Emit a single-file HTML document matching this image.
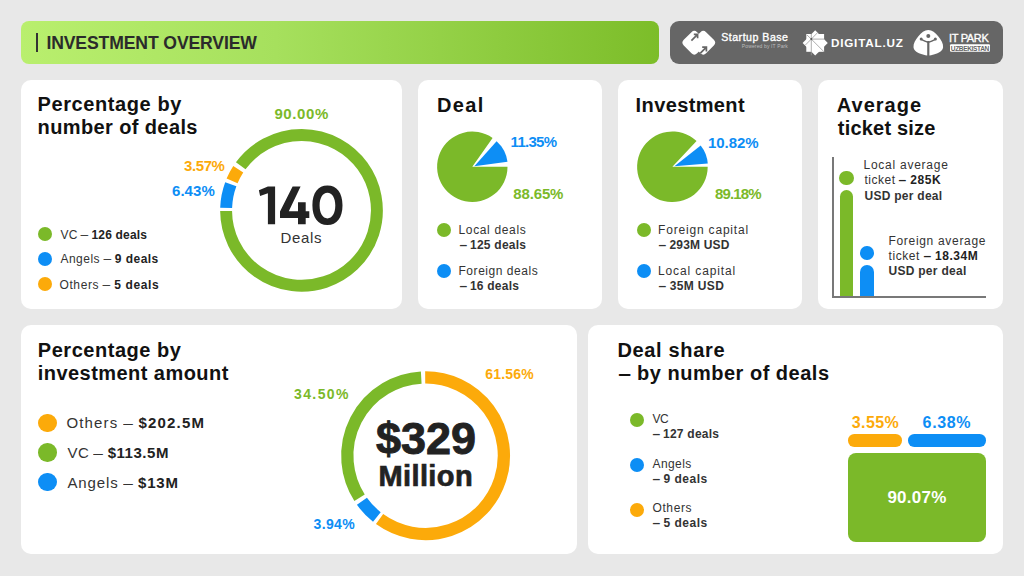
<!DOCTYPE html>
<html><head><meta charset="utf-8">
<style>
*{margin:0;padding:0;box-sizing:border-box}
html,body{width:1024px;height:576px;overflow:hidden;background:#e8e8e8;font-family:"Liberation Sans",sans-serif}
.a{position:absolute}
.card{position:absolute;background:#fff;border-radius:10px}
.t{position:absolute;white-space:nowrap;line-height:1}
.b{font-weight:bold}
.ttl{font-weight:bold;color:#111;font-size:20px}
.lg{color:#333;font-size:12px}
.lg b{color:#222}
.dot{position:absolute;border-radius:50%}
.g{color:#7bb929}.o{color:#fcaa0a}.bl{color:#0d8ef5}
.bg{background:#7bb929}.bo{background:#fcaa0a}.bb{background:#0d8ef5}
.pc{font-weight:bold;font-size:15px}
.dh{display:inline-block;font-style:normal;transform:scaleX(1.15)}

#hdr{margin-left:-0.6px;margin-top:1.8px;letter-spacing:-0.124px}#c1t1{margin-left:-0.4px;margin-top:-0.61px;letter-spacing:0.583px}#c1t2{margin-left:-0.4px;margin-top:-0.8px;letter-spacing:0.383px}#p90{margin-left:-0.6px;margin-top:-0.61px;letter-spacing:0.6px}#p357{margin-left:0px;margin-top:-0.71px;letter-spacing:-0.4px}#p643{margin-left:-1px;margin-top:-0.91px;letter-spacing:0.05px}#deals{margin-left:-0.4px;margin-top:-0.61px;letter-spacing:0.65px}#l1{margin-left:0.5px;margin-top:-0.4px;letter-spacing:0.189px}#l2{margin-left:0.5px;margin-top:-0.71px;letter-spacing:0.466px}#l3{margin-left:-0.5px;margin-top:-0.21px;letter-spacing:0.599px}#c2t{margin-left:-1px;margin-top:-0.41px;letter-spacing:1.333px}#p1135{margin-left:-1.4px;margin-top:-0.21px;letter-spacing:-0.72px}#p8865{margin-left:0.2px;margin-top:-1.0px;letter-spacing:-0.12px}#d1{margin-left:-0.5px;margin-top:-0.31px;letter-spacing:0.65px}#d2{margin-left:0.5px;margin-top:-0.31px;letter-spacing:0.244px}#d3{margin-left:-0.5px;margin-top:-0.21px;letter-spacing:0.542px}#d4{margin-left:0.5px;margin-top:-0.5px;letter-spacing:0.223px}#c3t{margin-left:-1.4px;margin-top:-0.11px;letter-spacing:0.381px}#p1082{margin-left:-2.0px;margin-top:-0.5px;letter-spacing:-0.04px}#p8918{margin-left:0px;margin-top:-1.0px;letter-spacing:-0.88px}#i1{margin-left:-1.0px;margin-top:-0.31px;letter-spacing:0.818px}#i2{margin-left:0.0px;margin-top:-0.31px;letter-spacing:0.195px}#i3{margin-left:-1.0px;margin-top:-0.21px;letter-spacing:0.874px}#i4{margin-left:0.0px;margin-top:-0.5px;letter-spacing:0.358px}#c4t1{margin-left:-1.2px;margin-top:-1.0px;letter-spacing:1.0px}#c4t2{margin-left:-0.2px;margin-top:-1.0px;letter-spacing:0.2px}#a1{margin-left:-1.0px;margin-top:-0.5px;letter-spacing:0.747px}#a2{margin-left:-0.0px;margin-top:-0.31px;letter-spacing:0.499px}#a3{margin-left:-0.0px;margin-top:0.21px;letter-spacing:0.268px}#a4{margin-left:-0.5px;margin-top:-0.1px;letter-spacing:0.683px}#a5{margin-left:-0.5px;margin-top:-0.1px;letter-spacing:0.569px}#a6{margin-left:-0.5px;margin-top:0.21px;letter-spacing:0.275px}#c5t1{margin-left:-0.2px;margin-top:-0.8px;letter-spacing:0.532px}#c5t2{margin-left:-0.2px;margin-top:-0.8px;letter-spacing:0.447px}#m1{margin-left:-0.6px;margin-top:-0.61px;letter-spacing:1.16px}#m2{margin-left:0.4px;margin-top:-0.8px;letter-spacing:0.545px}#m3{margin-left:0.4px;margin-top:-0.41px;letter-spacing:0.883px}#n329{margin-left:0.1px;margin-top:0.3px;letter-spacing:-0.029px}#mil{margin-left:-1.6px;margin-top:1.0px;letter-spacing:0.403px}#p6156{margin-left:-0.8px;margin-top:0.5px;letter-spacing:0.2px}#p3450{margin-left:0.0px;margin-top:0.8px;letter-spacing:1.4px}#p394{margin-left:-0.4px;margin-top:0.61px;letter-spacing:0.35px}#c6t1{margin-left:-1.6px;margin-top:-1.0px;letter-spacing:0.667px}#c6t2{margin-left:0.4px;margin-top:-0.61px;letter-spacing:0.504px}#s1{margin-left:-0.6px;margin-top:-0.41px;letter-spacing:-0.3px}#s2{margin-left:-0.5px;margin-top:-0.1px;letter-spacing:0.245px}#s3{margin-left:-0.5px;margin-top:-0.71px;letter-spacing:0.4px}#s4{margin-left:-0.5px;margin-top:-0.5px;letter-spacing:0.502px}#s5{margin-left:-0.5px;margin-top:-1.21px;letter-spacing:0.6px}#s6{margin-left:-0.5px;margin-top:-1.0px;letter-spacing:0.502px}#p355{margin-left:-0.2px;margin-top:0.91px;letter-spacing:0.4px}#p638{margin-left:-0.4px;margin-top:0.91px;letter-spacing:0.65px}#p9007{margin-left:-0.6px;margin-top:0.91px;letter-spacing:0.24px}#sb{margin-left:0.2px;margin-top:0.3px;letter-spacing:0.504px}#pw{margin-left:-0.2px;margin-top:0.3px;letter-spacing:0.131px}#dg{margin-left:-1.1px;margin-top:-0.21px;letter-spacing:0.808px}#itp{margin-left:-1px;margin-top:0.5px;letter-spacing:-0.334px}#uzb{margin-left:-0.2px;margin-top:0.51px;letter-spacing:-0.395px}</style></head><body>
<!-- header -->
<div class="a" style="left:21.4px;top:21px;width:637.6px;height:43px;border-radius:8px;background:linear-gradient(90deg,#b9ef6e 0%,#a6e05d 40%,#7cbd29 100%)"></div>
<div class="a" style="left:36.2px;top:33px;width:1.8px;height:19px;background:#333"></div>
<div class="t b" id="hdr" style="left:47px;top:33px;font-size:17.6px;color:#2b2b2b">INVESTMENT OVERVIEW</div>

<div class="a" style="left:670px;top:21px;width:333px;height:43px;border-radius:9px;background:#666"></div>
<svg class="a" style="left:0;top:0" width="1024" height="70" viewBox="0 0 1024 70">
 <g fill="#fff">
  <rect x="684.85" y="33.25" width="18.9" height="18.9" rx="4" transform="rotate(45 694.3 42.7)"/>
  <rect x="693.85" y="33.25" width="18.9" height="18.9" rx="4" transform="rotate(45 703.3 42.7)"/>
 </g>
 <g stroke="#666" stroke-width="1.7" fill="none" stroke-linecap="butt">
  <path d="M691.4 40.6L697.6 34.4M693.8 34.4H697.6V38.2"/>
  <path d="M700.4 53.2L706.4 47.2M702.2 47.2H706.4V51.4"/>
 </g>
 <g fill="#fff">
  <rect x="806.3" y="34" width="17.8" height="17.8"/>
  <rect x="806.3" y="34" width="17.8" height="17.8" transform="rotate(45 815.2 42.9)"/>
 </g>
 <g stroke="#9a9a9a" stroke-width="0.8" fill="none">
  <path d="M811.3 34V55.3M811.3 39.1H824.1M811.3 39.1L824 51.8M811.3 39.1L817.6 32.6M811.3 39.1L807 35M811.3 39.1L805.4 45"/>
 </g>
 <circle cx="811.3" cy="39.1" r="1" fill="#555"/>
 <path fill="#fff" d="M928.3 29.9C932.2 29.9 935.2 32.4 938.2 36.2C941.2 40 943.4 43.6 943.1 47.2C942.8 50.8 938.6 53 934.6 54.2C932.2 54.9 929.8 55.4 928.3 55.6C926.8 55.4 924.4 54.9 922 54.2C918 53 913.8 50.8 913.5 47.2C913.2 43.6 915.4 40 918.4 36.2C921.4 32.4 924.4 29.9 928.3 29.9Z"/>
 <circle cx="928.3" cy="36.1" r="2" fill="#666"/>
 <path d="M921.2 39.3Q925 41.2 928.3 42.4Q931.6 41.2 935.4 39.3" stroke="#666" stroke-width="1.5" fill="none"/>
 <circle cx="921.2" cy="39.1" r="1.5" fill="#666"/>
 <circle cx="935.4" cy="39.1" r="1.5" fill="#666"/>
 <rect x="927.2" y="41" width="2.2" height="15" fill="#666"/>
 <rect x="950" y="44.3" width="40" height="7.4" rx="1.2" fill="#fff"/>
</svg>
<div class="t" id="sb" style="left:721px;top:32px;font-size:10.6px;color:#fff;-webkit-text-stroke:0.35px #fff">Startup Base</div>
<div class="t" id="pw" style="left:742px;top:44px;font-size:5px;color:#bdbdbd">Powered by IT Park</div>
<div class="t b" id="dg" style="left:832px;top:37px;font-size:11.7px;color:#fff">DIGITAL.UZ</div>
<div class="t" id="itp" style="left:950px;top:32px;font-size:11px;color:#fff;-webkit-text-stroke:0.35px #fff">IT PARK</div>
<div class="t b" id="uzb" style="left:951px;top:45px;font-size:6.6px;color:#666">UZBEKISTAN</div>

<!-- cards -->
<div class="card" style="left:21.4px;top:80px;width:380.6px;height:229px"></div>
<div class="card" style="left:418px;top:80px;width:184px;height:229px"></div>
<div class="card" style="left:618px;top:80px;width:184px;height:229px"></div>
<div class="card" style="left:818px;top:80px;width:185px;height:229px"></div>
<div class="card" style="left:21.4px;top:325px;width:555.6px;height:229px"></div>
<div class="card" style="left:588px;top:325px;width:415px;height:229px"></div>

<svg class="a" style="left:0;top:0" width="1024" height="576" viewBox="0 0 1024 576">
<path d="M226.14 207.90A75.4 75.4 0 0 1 230.78 184.24" fill="none" stroke="#0d8ef5" stroke-width="11.9"/>
<path d="M232.09 180.94A75.4 75.4 0 0 1 238.26 169.33" fill="none" stroke="#fcaa0a" stroke-width="11.9"/>
<path d="M240.73 165.76A75.4 75.4 0 1 1 226.10 211.06" fill="none" stroke="#7bb929" stroke-width="11.9"/>
<path d="M472.3 166.8L507.50 166.80A35.2 35.2 0 1 1 492.59 138.04Z" fill="#7bb929"/>
<path d="M474.3 166.3L496.59 141.29A33.5 33.5 0 0 1 507.50 161.81Z" fill="#0d8ef5"/>
<path d="M672.4 166.8L707.70 166.80A35.3 35.3 0 1 1 696.56 141.07Z" fill="#7bb929"/>
<path d="M674.4 166.3L700.69 145.54A33.5 33.5 0 0 1 707.79 163.61Z" fill="#0d8ef5"/>
<path d="M425.19 377.40A78.3 78.3 0 1 1 379.58 519.05" fill="none" stroke="#fcaa0a" stroke-width="12.3"/>
<path d="M376.86 516.98A78.3 78.3 0 0 1 361.93 501.28" fill="none" stroke="#0d8ef5" stroke-width="12.3"/>
<path d="M359.56 497.77A78.3 78.3 0 0 1 421.23 377.52" fill="none" stroke="#7bb929" stroke-width="12.3"/>
</svg>

<!-- card 1 -->
<div class="t ttl" id="c1t1" style="left:38px;top:95px">Percentage by</div>
<div class="t ttl" id="c1t2" style="left:38px;top:118px">number of deals</div>
<div class="t pc g" id="p90" style="left:275px;top:107px">90.00%</div>
<div class="t pc o" id="p357" style="left:184px;top:159px">3.57%</div>
<div class="t pc bl" id="p643" style="left:173px;top:184px">6.43%</div>
<svg class="a" style="left:0;top:0" width="400" height="300" viewBox="0 0 400 300"><g fill="#222">
<path d="M275.1 186.5H267.9L258.9 190.3L260.1 195.9L267.9 193.2V224.2H275.1Z"/>
<path d="M292.6 186.5H300.6L288.8 211.2H298V202.2H305.7V211.2H309.3V217.9H305.7V224.2H298V217.9H280V211.6Z"/>
<path fill-rule="evenodd" d="M327.45 185.60C336.93 185.60 342.50 192.91 342.50 205.35C342.50 217.79 336.93 225.10 327.45 225.10C317.97 225.10 312.40 217.79 312.40 205.35C312.40 192.91 317.97 185.60 327.45 185.60ZM327.45 192.80C332.16 192.80 335.30 197.92 335.30 205.60C335.30 213.28 332.16 218.40 327.45 218.40C322.74 218.40 319.60 213.28 319.60 205.60C319.60 197.92 322.74 192.80 327.45 192.80Z"/>
</g></svg>
<div class="t" id="deals" style="left:281px;top:231px;font-size:15px;color:#333">Deals</div>
<div class="dot bg" style="left:38px;top:227px;width:14px;height:14px"></div>
<div class="dot bb" style="left:38px;top:252px;width:14px;height:14px"></div>
<div class="dot bo" style="left:38px;top:277px;width:14px;height:14px"></div>
<div class="t lg" id="l1" style="left:60px;top:229px">VC <i class="dh">–</i> <b>126 deals</b></div>
<div class="t lg" id="l2" style="left:60px;top:254px">Angels <i class="dh">–</i> <b>9 deals</b></div>
<div class="t lg" id="l3" style="left:60px;top:279px">Others <i class="dh">–</i> <b>5 deals</b></div>

<!-- card 2 -->
<div class="t ttl" id="c2t" style="left:438px;top:95px">Deal</div>
<div class="t pc bl" id="p1135" style="left:512px;top:134px">11.35%</div>
<div class="t pc g" id="p8865" style="left:513px;top:187px">88.65%</div>
<div class="dot bg" style="left:437px;top:223px;width:14px;height:14px"></div>
<div class="dot bb" style="left:437px;top:264px;width:14px;height:14px"></div>
<div class="t lg" id="d1" style="left:459px;top:224.5px">Local deals</div>
<div class="t lg b" id="d2" style="left:459px;top:239.5px"><i class="dh">–</i> 125 deals</div>
<div class="t lg" id="d3" style="left:459px;top:265px">Foreign deals</div>
<div class="t lg b" id="d4" style="left:459px;top:280px"><i class="dh">–</i> 16 deals</div>

<!-- card 3 -->
<div class="t ttl" id="c3t" style="left:637px;top:95px">Investment</div>
<div class="t pc bl" id="p1082" style="left:710px;top:135px">10.82%</div>
<div class="t pc g" id="p8918" style="left:715px;top:187px">89.18%</div>
<div class="dot bg" style="left:637px;top:223px;width:14px;height:14px"></div>
<div class="dot bb" style="left:637px;top:264px;width:14px;height:14px"></div>
<div class="t lg" id="i1" style="left:659px;top:224.5px">Foreign capital</div>
<div class="t lg b" id="i2" style="left:659px;top:239.5px"><i class="dh">–</i> 293M USD</div>
<div class="t lg" id="i3" style="left:659px;top:265px">Local capital</div>
<div class="t lg b" id="i4" style="left:659px;top:280px"><i class="dh">–</i> 35M USD</div>

<!-- card 4 -->
<div class="t ttl" id="c4t1" style="left:838px;top:96px">Average</div>
<div class="t ttl" id="c4t2" style="left:838px;top:119px">ticket size</div>
<div class="a" style="left:832px;top:156.5px;width:2px;height:141.5px;background:#787878"></div>
<div class="a" style="left:832px;top:296px;width:154px;height:2px;background:#787878"></div>
<div class="dot bg" style="left:839px;top:170.5px;width:14.5px;height:14.5px"></div>
<div class="a bg" style="left:839.5px;top:190px;width:13.5px;height:106px;border-radius:7px 7px 0 0"></div>
<div class="dot bb" style="left:860px;top:246px;width:13.5px;height:13.5px"></div>
<div class="a bb" style="left:860px;top:265px;width:13.5px;height:31px;border-radius:7px 7px 0 0"></div>
<div class="t lg" id="a1" style="left:864.5px;top:159.5px">Local average</div>
<div class="t lg" id="a2" style="left:864.5px;top:174.5px">ticket <b><i class="dh">–</i> 285K</b></div>
<div class="t lg b" id="a3" style="left:864.5px;top:189.5px">USD per deal</div>
<div class="t lg" id="a4" style="left:889px;top:235px">Foreign average</div>
<div class="t lg" id="a5" style="left:889px;top:250px">ticket <b><i class="dh">–</i> 18.34M</b></div>
<div class="t lg b" id="a6" style="left:889px;top:265px">USD per deal</div>

<!-- card 5 -->
<div class="t ttl" id="c5t1" style="left:38px;top:341px">Percentage by</div>
<div class="t ttl" id="c5t2" style="left:38px;top:364px">investment amount</div>
<div class="dot bo" style="left:38px;top:413.5px;width:18.5px;height:18.5px"></div>
<div class="dot bg" style="left:38px;top:443px;width:18.5px;height:18.5px"></div>
<div class="dot bb" style="left:38px;top:472.5px;width:18.5px;height:18.5px"></div>
<div class="t" id="m1" style="left:67px;top:416px;font-size:15px;color:#333">Others <i class="dh">–</i> <b style="color:#222">$202.5M</b></div>
<div class="t" id="m2" style="left:67px;top:445.5px;font-size:15px;color:#333">VC <i class="dh">–</i> <b style="color:#222">$113.5M</b></div>
<div class="t" id="m3" style="left:67px;top:475px;font-size:15px;color:#333">Angels <i class="dh">–</i> <b style="color:#222">$13M</b></div>
<div class="t b" id="n329" style="left:376px;top:416px;font-size:45px;color:#222;-webkit-text-stroke:0.9px #222">$329</div>
<div class="t b" id="mil" style="left:380px;top:461px;font-size:29px;color:#222;-webkit-text-stroke:0.7px #222">Million</div>
<div class="t pc o" id="p6156" style="left:486px;top:366px;font-size:14px">61.56%</div>
<div class="t pc g" id="p3450" style="left:294px;top:386px;font-size:14px">34.50%</div>
<div class="t pc bl" id="p394" style="left:314px;top:516px;font-size:14px">3.94%</div>

<!-- card 6 -->
<div class="t ttl" id="c6t1" style="left:619px;top:341px">Deal share</div>
<div class="t ttl" id="c6t2" style="left:619px;top:364px"><i class="dh">–</i> by number of deals</div>
<div class="dot bg" style="left:630px;top:412.5px;width:14px;height:14px"></div>
<div class="dot bb" style="left:630px;top:457.5px;width:14px;height:14px"></div>
<div class="dot bo" style="left:630px;top:502.5px;width:14px;height:14px"></div>
<div class="t lg" id="s1" style="left:653px;top:413.5px">VC</div>
<div class="t lg b" id="s2" style="left:653px;top:428.5px"><i class="dh">–</i> 127 deals</div>
<div class="t lg" id="s3" style="left:653px;top:458.5px">Angels</div>
<div class="t lg b" id="s4" style="left:653px;top:473px"><i class="dh">–</i> 9 deals</div>
<div class="t lg" id="s5" style="left:653px;top:503.5px">Others</div>
<div class="t lg b" id="s6" style="left:653px;top:518px"><i class="dh">–</i> 5 deals</div>
<div class="t pc o" id="p355" style="left:852px;top:414px;font-size:16px">3.55%</div>
<div class="t pc bl" id="p638" style="left:923px;top:414px;font-size:16px">6.38%</div>
<div class="a bo" style="left:847.8px;top:434px;width:54.2px;height:12.5px;border-radius:6.25px"></div>
<div class="a bb" style="left:908.2px;top:434px;width:77.8px;height:12.5px;border-radius:6.25px"></div>
<div class="a bg" style="left:847.8px;top:453px;width:138.2px;height:89px;border-radius:8px"></div>
<div class="t pc" id="p9007" style="left:888px;top:488px;font-size:17px;color:#fff">90.07%</div>

</body></html>
